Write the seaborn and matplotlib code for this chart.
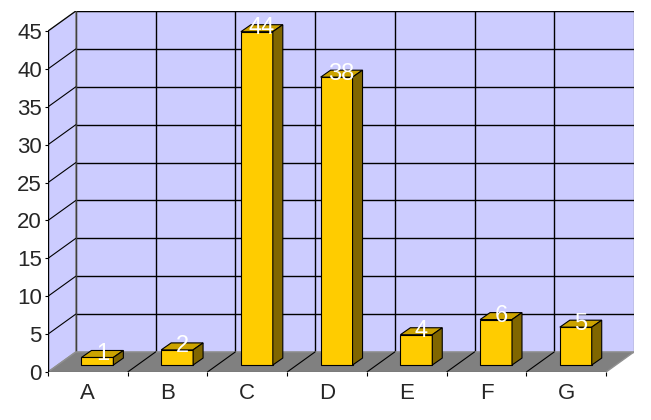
import numpy as np
import pandas as pd
import matplotlib
matplotlib.use("Agg")
import matplotlib.pyplot as plt
from matplotlib.patches import Polygon
import seaborn as sns

# ---------- data ----------
categories = ["A", "B", "C", "D", "E", "F", "G"]
values = [1, 2, 44, 38, 4, 6, 5]
y_ticks = [0, 5, 10, 15, 20, 25, 30, 35, 40, 45]

# ---------- style ----------
sns.set_style("white")
plt.rcParams["font.family"] = ["Liberation Sans", "DejaVu Sans"]

WALL = "#CCCCFF"
FLOOR = "#808080"
FRONT = "#FFCC00"
TOP = "#CCA300"
SIDE = "#806600"

# depth of the fake 3d box (x in category units, y in value units)
DX, DY = 0.35, 2.65
# bar placement inside the depth, and bar depth
OX, OY = 0.12, 0.92
BX, BY = 0.125, 0.92
YMAX = 45

df = pd.DataFrame({"cat": categories, "val": values})
n = len(categories)

fig = plt.figure(figsize=(6.51, 4.2), dpi=100)
ax = fig.add_axes([48 / 651, 48 / 420, (634 - 48) / 651, (372 - 11) / 420])

sns.barplot(data=df, x="cat", y="val", color=FRONT, saturation=1, width=0.4,
            edgecolor="black", linewidth=0.8, ax=ax, zorder=4)
bars = list(ax.patches)

x0, x1 = -0.5, n - 0.5

# back wall
ax.add_patch(Polygon([(x0 + DX, DY), (x1 + DX, DY), (x1 + DX, YMAX + DY), (x0 + DX, YMAX + DY)],
                     closed=True, facecolor=WALL, edgecolor="#909090", lw=1, zorder=1))
# side wall
ax.add_patch(Polygon([(x0, 0), (x0 + DX, DY), (x0 + DX, YMAX + DY), (x0, YMAX)],
                     closed=True, facecolor=WALL, edgecolor="#909090", lw=1, zorder=1))
# floor
ax.add_patch(Polygon([(x0, 0), (x1, 0), (x1 + DX, DY), (x0 + DX, DY)],
                     closed=True, facecolor=FLOOR, edgecolor="#909090", lw=1, zorder=2))

# gridlines on walls
for v in y_ticks[1:]:
    ax.plot([x0 + DX, x1 + DX], [v + DY, v + DY], color="black", lw=1, zorder=1.5)
    ax.plot([x0, x0 + DX], [v, v + DY], color="black", lw=0.8, zorder=1.5)
for k in range(1, n):
    ax.plot([k - 0.5 + DX, k - 0.5 + DX], [DY, YMAX + DY], color="black", lw=1, zorder=1.5)
    ax.plot([k - 0.5, k - 0.5 + DX], [0, DY], color="black", lw=0.8, zorder=2.5)
ax.plot([x0 + DX, x0 + DX], [DY, YMAX + DY], color="#404040", lw=1, zorder=1.5)
ax.plot([x0, x1], [0, 0], color="#404040", lw=1, zorder=2.5)
ax.plot([x0, x0], [0, YMAX], color="black", lw=1, zorder=2.5)

# 3d bar faces built from the seaborn bars
for p, v in zip(bars, values):
    p.set_x(p.get_x() + OX)
    p.set_y(p.get_y() + OY)
    bx0 = p.get_x()
    bx1 = bx0 + p.get_width()
    top = p.get_y() + p.get_height()
    ax.add_patch(Polygon([(bx0, top), (bx1, top), (bx1 + BX, top + BY), (bx0 + BX, top + BY)],
                         closed=True, facecolor=TOP, edgecolor="black", lw=0.8, zorder=4))
    ax.add_patch(Polygon([(bx1, OY), (bx1 + BX, OY + BY), (bx1 + BX, top + BY), (bx1, top)],
                         closed=True, facecolor=SIDE, edgecolor="black", lw=0.8, zorder=4))
    ax.text((bx0 + bx1 + BX) / 2, top + BY / 2, str(v), color="white",
            ha="center", va="center", fontsize=17, zorder=5)

# axes, ticks
ax.set_xlim(x0, x1 + DX)
ax.set_ylim(0, YMAX + DY)
ax.set_yticks(y_ticks)
ax.set_xticks(range(n))
ax.set_xticklabels(categories)
ax.set_xticks(np.arange(n + 1) - 0.5, minor=True)
ax.tick_params(axis="y", which="major", length=2.5, width=0.8, pad=2,
               labelsize=16, left=True, direction="out", color="black")
ax.tick_params(axis="x", which="major", length=0, pad=8, labelsize=16)
ax.tick_params(axis="x", which="minor", length=3, width=0.8, bottom=True,
               direction="out", color="black")
ax.set_xlabel("")
ax.set_ylabel("")
for s in ax.spines.values():
    s.set_visible(False)
ax.patch.set_visible(False)

fig.savefig("out.png", dpi=100)
